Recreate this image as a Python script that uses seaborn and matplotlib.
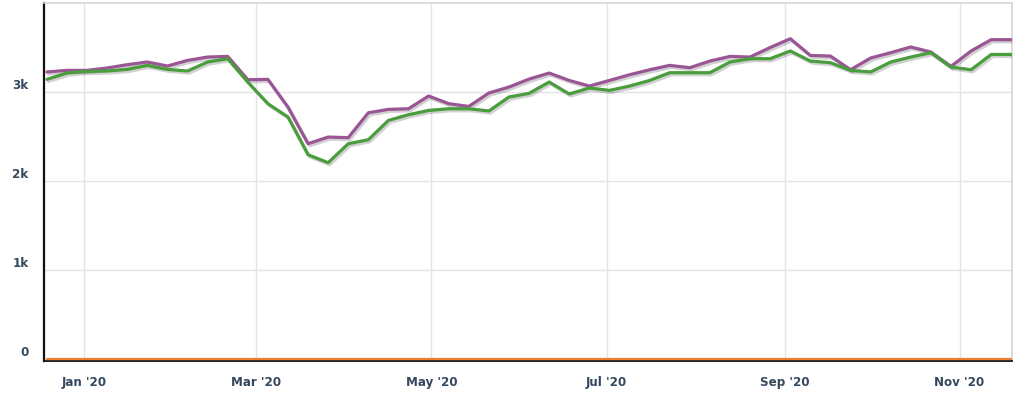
import numpy as np
import pandas as pd
import matplotlib
matplotlib.use("Agg")
import matplotlib.pyplot as plt
import matplotlib.patheffects as pe
import seaborn as sns

# ---- data (weekly) ----
start_date = "2019-12-19"
n_weeks = 49
series_purple = [3225, 3243, 3243, 3270, 3307, 3337, 3292, 3355, 3393, 3400,
                 3138, 3142, 2830, 2419, 2494, 2487, 2767, 2805, 2812, 2955,
                 2869, 2838, 2989, 3056, 3145, 3213, 3130, 3067, 3130, 3194,
                 3250, 3299, 3273, 3348, 3400, 3393, 3500, 3599, 3411, 3404,
                 3250, 3382, 3442, 3506, 3449, 3288, 3461, 3588, 3588]
series_green = [3142, 3213, 3232, 3236, 3254, 3299, 3254, 3236, 3337, 3374,
                3112, 2869, 2719, 2295, 2206, 2419, 2464, 2681, 2745, 2793,
                2812, 2812, 2787, 2944, 2985, 3112, 2978, 3045, 3018, 3067,
                3130, 3217, 3217, 3217, 3337, 3374, 3374, 3461, 3348, 3329,
                3243, 3225, 3337, 3393, 3442, 3281, 3250, 3422, 3422]
series_zero = [0] * n_weeks
y_ticks = [0, 1000, 2000, 3000]
y_tick_labels = ["0", "1k", "2k", "3k"]
x_ticks = ["2020-01-01", "2020-03-01", "2020-05-01", "2020-07-01", "2020-09-01", "2020-11-01"]
x_tick_labels = ["Jan '20", "Mar '20", "May '20", "Jul '20", "Sep '20", "Nov '20"]

dates = pd.date_range(start_date, periods=n_weeks, freq="7D")
df = pd.DataFrame({
    "date": np.concatenate([dates, dates, dates]),
    "value": series_purple + series_green + series_zero,
    "series": ["purple"] * n_weeks + ["green"] * n_weeks + ["zero"] * n_weeks,
})

palette = {"purple": "#9a5595", "green": "#4a9d3c", "zero": "#f07d2b"}

sns.set_style("white")
plt.rcParams["font.family"] = ["DejaVu Sans"]

fig = plt.figure(figsize=(10.23, 4.12), dpi=100)
ax = fig.add_axes([44 / 1023, 51 / 412, (1012 - 44) / 1023, (361 - 3) / 412])

sns.lineplot(data=df[df.series != "zero"], x="date", y="value", hue="series",
             palette=palette, linewidth=2.3, ax=ax, legend=False, zorder=3)
sns.lineplot(data=df[df.series == "zero"], x="date", y="value", hue="series",
             palette=palette, linewidth=1.6, ax=ax, legend=False, zorder=5, clip_on=False)

for ln in ax.lines[:2]:
    ln.set_path_effects([pe.SimpleLineShadow(offset=(1.2, -1.5), alpha=0.18, shadow_color="black"),
                         pe.Normal()])

ax.set_xlim(pd.Timestamp("2019-12-18"), pd.Timestamp("2020-11-19 06:00"))
ax.set_ylim(-22, 4000)

ax.set_yticks(y_ticks)
ax.set_yticklabels(y_tick_labels)
ax.set_xticks(pd.to_datetime(x_ticks))
ax.set_xticklabels(x_tick_labels)

ax.grid(True, color="#e3e3e8", linewidth=1.0, zorder=0)
ax.set_axisbelow(True)

for s in ["top", "right"]:
    ax.spines[s].set_color("#d6d6d6")
    ax.spines[s].set_linewidth(1.2)
ax.spines["left"].set_color("#111111")
ax.spines["left"].set_linewidth(1.6)
ax.spines["bottom"].set_color("#111111")
ax.spines["bottom"].set_linewidth(1.3)
ax.spines["bottom"].set_zorder(4)

ax.tick_params(axis="x", length=9, width=1.0, color="#e3e3e8", pad=1.5,
               labelsize=8.6, labelcolor="#34495e")
ax.tick_params(axis="y", length=0, pad=11, labelsize=8.6, labelcolor="#34495e")
for lab in ax.get_yticklabels():
    lab.set_va("bottom")
for lab in ax.get_xticklabels() + ax.get_yticklabels():
    lab.set_fontweight("bold")

ax.set_xlabel("")
ax.set_ylabel("")

fig.savefig("out.png", dpi=100)
